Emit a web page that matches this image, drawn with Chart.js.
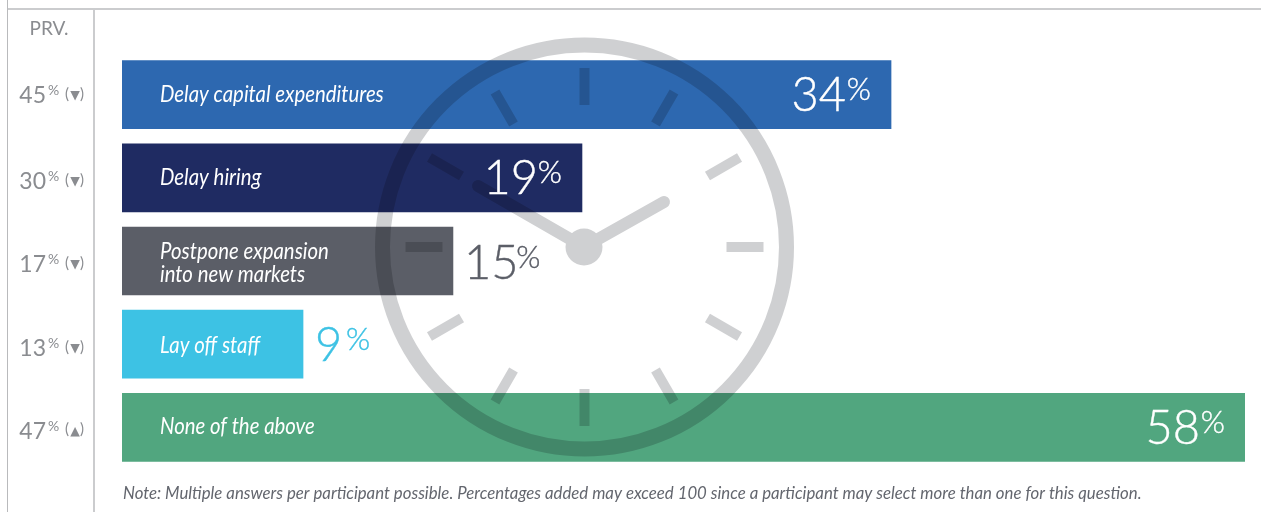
<!DOCTYPE html>
<html><head><meta charset="utf-8">
<script src="https://cdn.jsdelivr.net/npm/chart.js@4/dist/chart.umd.min.js"></script>
<style>html,body{margin:0;padding:0;background:#fff}canvas{display:block}</style>
</head><body><canvas id="c" width="1261" height="512"></canvas>
<script>
const categories = [["Delay capital expenditures"],["Delay hiring"],["Postpone expansion","into new markets"],["Lay off staff"],["None of the above"]];
const currentValues = [34,19,15,9,58];
const previousValues = [45,30,17,13,47];
const previousDirections = ["▼","▼","▼","▼","▲"];
const barColors = ["#2d68b0","#1f2b62","#5b5e67","#3dc2e4","#51a67f"];
const valueColors = ["#ffffff","#ffffff","#5b5e67","#3dc2e4","#ffffff"];
const valuesInside = [true,true,false,false,true];
const headerLabel = "PRV.";
const noteText = "Note: Multiple answers per participant possible. Percentages added may exceed 100 since a participant may select more than one for this question.";
// The source bars are not drawn to a uniform scale: these stops reproduce its axis.
const axisStopValues = [0,9,15,19,34,58];
const axisStopFractions = [0,0.1612,0.2947,0.4096,0.6848,1];
// Small text offsets per row, as the source's rows are not evenly spaced.
const labelNudge = [0,0,2.5,1.5,0];
const valueNudge = [0,0,1.5,0,0];
const previousNudge = [0,3,3,3.5,3];
const percentGap = [2,3,1,7,3];

class StoppedScale extends Chart.LinearScale {
  getPixelForValue(v){
    const a=axisStopValues,f=axisStopFractions;
    let i=1; while(i<a.length-1 && v>a[i]) i++;
    const frac=f[i-1]+(v-a[i-1])/(a[i]-a[i-1])*(f[i]-f[i-1]);
    return this.left+frac*this.width;
  }
}
StoppedScale.id='stopped';
StoppedScale.defaults=Chart.LinearScale.defaults;
Chart.register(StoppedScale);

const SANS='Lato, "Open Sans", sans-serif';
const frame={
  id:'frame',
  beforeDraw(ch){
    const c=ch.ctx;c.save();
    c.fillStyle='#fff';c.fillRect(0,0,1261,512);
    c.fillStyle='#cbccce';c.fillRect(7,8,1254,2);
    c.fillStyle='#b9babc';c.fillRect(7,0,1,512);
    c.fillStyle='#cbccce';c.fillRect(93,10,2,502);
    c.restore();
  }
};
const clock={
  id:'clock',
  afterDatasetsDraw(ch){
    const c=ch.ctx,cx=584.5,cy=247;
    c.save();
    c.globalCompositeOperation='multiply';
    c.strokeStyle='#cfd0d2';c.fillStyle='#cfd0d2';
    c.lineWidth=15;c.beginPath();c.arc(cx,cy,202,0,Math.PI*2);c.stroke();
    c.lineWidth=10;c.lineCap='butt';
    c.beginPath();
    for(let i=0;i<12;i++){
      const t=i*Math.PI/6,s=Math.sin(t),k=Math.cos(t);
      c.moveTo(cx+s*142,cy-k*142);c.lineTo(cx+s*179,cy-k*179);
    }
    c.stroke();
    const off=document.createElement('canvas');off.width=1261;off.height=512;
    const o=off.getContext('2d');
    o.strokeStyle=o.fillStyle='#cfd0d2';o.lineCap='round';o.lineWidth=12;
    o.beginPath();o.moveTo(664,202);o.lineTo(584,247);o.lineTo(478,186);o.stroke();
    o.beginPath();o.arc(584,247,18.5,0,Math.PI*2);o.fill();
    c.drawImage(off,0,0);
    c.restore();
  }
};
function heavy(c,t,x,y,w){c.lineWidth=w;c.strokeStyle=c.fillStyle;c.strokeText(t,x,y);c.fillText(t,x,y);}
const labels={
  id:'labels',
  afterDraw(ch){
    const c=ch.ctx,bars=ch.getDatasetMeta(0).data;
    c.save();c.textBaseline='alphabetic';
    bars.forEach((b,i)=>{
      const y=b.y;
      // category text, narrowed to the source's condensed italic
      c.fillStyle='#fff';c.textAlign='left';c.font='italic 400 22.5px '+SANS;
      const ls=categories[i];
      ls.forEach((t,j)=>{
        c.save();c.translate(160,y+7+labelNudge[i]+(j-(ls.length-1)/2)*23);c.scale(0.905,1);
        c.fillText(t,0,0);c.restore();
      });
      // value text
      const num=String(currentValues[i]);
      c.fillStyle=valueColors[i];
      c.font='300 47px '+SANS;
      const m=c.measureText(num),inkL=-m.actualBoundingBoxLeft,inkR=m.actualBoundingBoxRight;
      c.font='300 31px '+SANS;const pw=c.measureText('%').width;
      const gap=percentGap[i];
      const start=valuesInside[i]?b.x-20-pw-gap-inkR:b.x+15-inkL;
      const vy=y+16.5+valueNudge[i];
      c.font='300 47px '+SANS;heavy(c,num,start,vy,0.4);
      c.font='300 31px '+SANS;heavy(c,'%',start+inkR+gap,y+5.5+valueNudge[i],0.4);
      // previous column
      const py=y+8.4+previousNudge[i];
      c.fillStyle='#8a8c90';c.textAlign='right';c.font='400 23px '+SANS;
      c.fillText(String(previousValues[i]),46,py);
      c.textAlign='left';c.font='400 14px '+SANS;c.fillText('%',48,py-8);
      c.font='400 15px '+SANS;c.fillText('(',65,py-4.5);c.fillText(')',80,py-4.5);
      c.textAlign='center';c.font='12.5px "DejaVu Sans"';c.fillText(previousDirections[i],75,py-4);
    });
    c.textAlign='center';c.fillStyle='#8a8c90';c.font='400 19px '+SANS;
    c.fillText(headerLabel,49,34.5);
    c.textAlign='left';c.fillStyle='#63666e';c.font='italic 400 16.8px '+SANS;
    c.fillText(noteText,123,499);
    c.restore();
  }
};
new Chart(document.getElementById('c'),{
  type:'bar',
  data:{labels:categories,datasets:[{data:currentValues,backgroundColor:barColors,borderWidth:0,barThickness:68}]},
  options:{
    indexAxis:'y',responsive:false,animation:false,devicePixelRatio:1,
    layout:{padding:{left:122,right:16,top:53,bottom:43}},
    plugins:{legend:{display:false},tooltip:{enabled:false}},
    scales:{
      x:{type:'stopped',min:0,max:58,display:false},
      y:{display:false,grid:{display:false}}
    }
  },
  plugins:[frame,clock,labels]
});
</script></body></html>
